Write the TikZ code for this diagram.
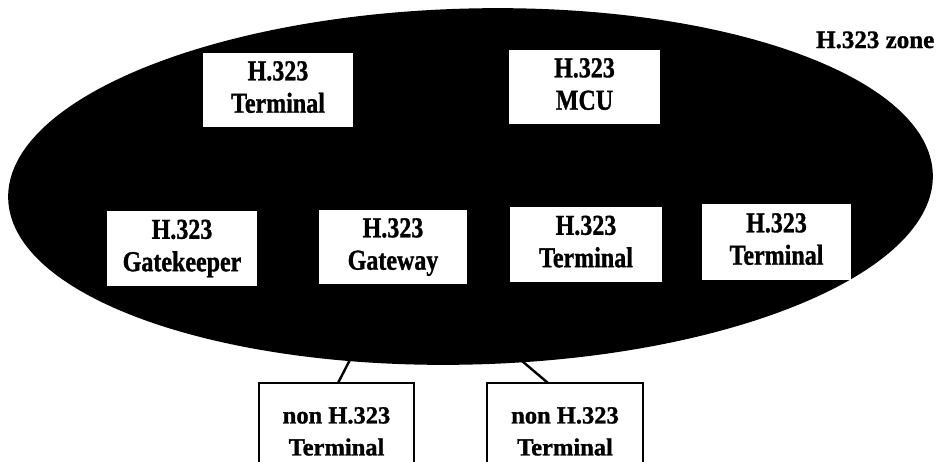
\documentclass[tikz,border=0pt]{standalone}
\usepackage{fontspec}
\setmainfont{Liberation Serif}[BoldFeatures={FakeBold=1.2}]
\usepackage{graphicx}
\usetikzlibrary{shapes.geometric}
\newcommand{\zonetext}[2]{\raisebox{4pt}{\scalebox{1}[1.2]{\fontsize{24}{27}\selectfont\bfseries\begin{tabular}{@{}c@{}}#1\\#2\end{tabular}}}}
\newcommand{\outtext}[2]{\raisebox{12.4pt}{\fontsize{24.5}{32}\selectfont\bfseries\begin{tabular}{@{}c@{}}#1\\#2\end{tabular}}}
\begin{document}
\begin{tikzpicture}[x=1pt,y=-1pt,
  zonebox/.style={rectangle, fill=white, inner sep=0pt, outer sep=0pt},
  outbox/.style={rectangle, draw=black, line width=2.6pt, fill=white, inner sep=0pt, outer sep=0pt, minimum height=100pt, anchor=north},
  link/.style={line width=2.4pt, draw=black}]
\clip (0,0) rectangle (940,461);
% external terminals
\node[outbox, minimum width=155pt] (nl) at (336.5,383) {\outtext{non H.323}{Terminal}};
\node[outbox, minimum width=156pt] (nr) at (565,383) {\outtext{non H.323}{Terminal}};
\coordinate (e1) at (355,350);
\coordinate (e2) at (509,350);
\draw[link] ([xshift=1.5pt]nl.north) -- (e1);
\draw[link] ([xshift=-17pt]nr.north) -- (e2);
% zone
\node[ellipse, fill=black, inner sep=0pt, outer sep=0pt, minimum width=925pt, minimum height=356pt, rotate=1.5] (zone) at (470.5,186.5) {};
\node[anchor=base west, font=\fontsize{25}{30}\selectfont\bfseries, inner sep=0pt] (zonelabel) at (816,48) {H.323 zone};
% members
\node[zonebox, minimum width=150pt, minimum height=74pt] (t1) at (278,90) {\zonetext{H.323}{Terminal}};
\node[zonebox, minimum width=151pt, minimum height=74pt] (mcu) at (584.5,87) {\zonetext{H.323}{MCU}};
\node[zonebox, minimum width=150pt, minimum height=75pt] (gk) at (182,248.5) {\zonetext{H.323}{Gatekeeper}};
\node[zonebox, minimum width=148pt, minimum height=74pt] (gw) at (393,247) {\zonetext{H.323}{Gateway}};
\node[zonebox, minimum width=152pt, minimum height=75pt] (t2) at (586,244.5) {\zonetext{H.323}{Terminal}};
\node[zonebox, minimum width=149pt, minimum height=76pt] (t3) at (776.5,242) {\zonetext{H.323}{Terminal}};
\end{tikzpicture}
\end{document}
